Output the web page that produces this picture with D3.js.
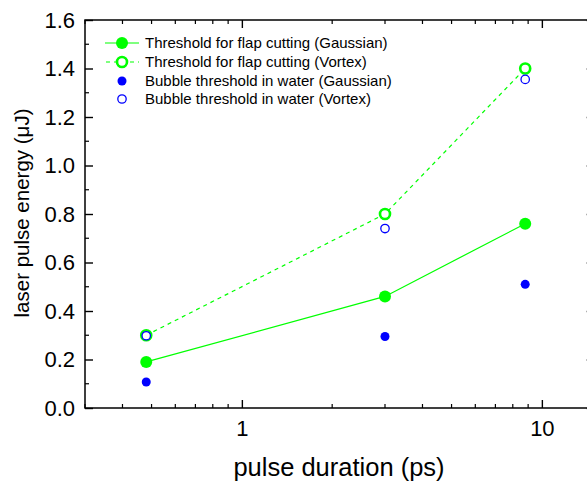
<!DOCTYPE html>
<html><head><meta charset="utf-8">
<script src="https://cdn.jsdelivr.net/npm/d3@7"></script>
<style>body{margin:0;background:#fff}svg{display:block}text{font-family:Arial,"Liberation Sans",sans-serif}</style>
</head><body>
<svg id="c" width="587" height="481"></svg>
<script>
const pulseDuration = [0.48, 3.0, 8.8];
const flapGaussian = [0.19, 0.46, 0.76];
const flapVortex = [0.30, 0.80, 1.40];
const bubbleGaussian = [0.107, 0.295, 0.51];
const bubbleVortex = [0.298, 0.74, 1.355];
const seriesNames = ["Threshold for flap cutting (Gaussian)","Threshold for flap cutting (Vortex)","Bubble threshold in water (Gaussian)","Bubble threshold in water (Vortex)"];
const yTicks = [0,0.2,0.4,0.6,0.8,1.0,1.2,1.4,1.6];
const xTicks = [1,10];

const svg = d3.select("#c");
const L=85, T=20, B=408;
const x = d3.scaleLog().domain([0.3,15]).range([L, L + 300*Math.log10(15/0.3)]);
const y = d3.scaleLinear().domain([0,1.6]).range([B,T]);
const R = x.range()[1];
const green="#00ff00", blue="#0000ff";

svg.append("rect").attr("x",L).attr("y",T).attr("width",R-L).attr("height",B-T).attr("fill","none").attr("stroke","#000").attr("stroke-width",1.5);

const minorX = [0.3,0.4,0.5,0.6,0.7,0.8,0.9,2,3,4,5,6,7,8,9];
const gb = svg.append("g").attr("transform",`translate(0,${B})`)
 .call(d3.axisBottom(x).tickValues(xTicks).tickSize(-8).tickPadding(12).tickFormat(d3.format("d")));
const gt = svg.append("g").attr("transform",`translate(0,${T})`)
 .call(d3.axisTop(x).tickValues(xTicks).tickSize(-8).tickFormat(""));
[gb,gt].forEach((g,i)=>{
  g.select(".domain").remove();
  g.selectAll(".tick line").attr("stroke-width",1.4);
  g.selectAll(".minor").data(minorX).enter().append("line")
   .attr("x1",d=>x(d)).attr("x2",d=>x(d)).attr("y1",0).attr("y2",i===0?-4:4).attr("stroke","#000").attr("stroke-width",1.2);
});
gb.selectAll(".tick text").attr("font-size",22).attr("fill","#000").attr("font-family","Arial, Liberation Sans, sans-serif");

const minorY = d3.range(0.1,1.6,0.2);
const gl = svg.append("g").attr("transform",`translate(${L},0)`)
 .call(d3.axisLeft(y).tickValues(yTicks).tickSize(-8).tickPadding(10).tickFormat(d3.format(".1f")));
const gr = svg.append("g").attr("transform",`translate(${R},0)`)
 .call(d3.axisRight(y).tickValues(yTicks).tickSize(-8).tickFormat(""));
[gl,gr].forEach((g,i)=>{
  g.select(".domain").remove();
  g.selectAll(".tick line").attr("stroke-width",1.4);
  g.selectAll(".minor").data(minorY).enter().append("line")
   .attr("y1",d=>y(d)).attr("y2",d=>y(d)).attr("x1",0).attr("x2",i===0?4:-4).attr("stroke","#000").attr("stroke-width",1.2);
});
gl.selectAll(".tick text").attr("font-size",22).attr("fill","#000").attr("font-family","Arial, Liberation Sans, sans-serif");

svg.append("text").attr("x",339).attr("y",476).attr("text-anchor","middle").attr("font-size",25.5).text("pulse duration (ps)");
svg.append("text").attr("transform",`translate(29,213) rotate(-90)`).attr("text-anchor","middle").attr("font-size",20.5).text("laser pulse energy (μJ)");

const pts = a => pulseDuration.map((d,i)=>[x(d),y(a[i])]);
const line = d3.line();
svg.append("path").attr("d",line(pts(flapVortex))).attr("fill","none").attr("stroke",green).attr("stroke-width",1.2).attr("stroke-dasharray","4,4");
svg.append("path").attr("d",line(pts(flapGaussian))).attr("fill","none").attr("stroke",green).attr("stroke-width",1.2);

function marks(a, r, fill, stroke, sw){
  svg.append("g").selectAll("circle").data(pts(a)).enter().append("circle")
   .attr("cx",d=>d[0]).attr("cy",d=>d[1]).attr("r",r).attr("fill",fill).attr("stroke",stroke).attr("stroke-width",sw);
}
marks(flapGaussian,6,green,"none",0);
marks(flapVortex,5,"#fff",green,2.6);
marks(bubbleGaussian,4.5,blue,"none",0);
marks(bubbleVortex,4.2,"#fff",blue,1.3);

const ly=[43,62,81,99];
const lg = svg.append("g");
lg.append("line").attr("x1",105).attr("x2",139).attr("y1",ly[0]).attr("y2",ly[0]).attr("stroke",green).attr("stroke-width",1.2);
lg.append("line").attr("x1",105).attr("x2",139).attr("y1",ly[1]).attr("y2",ly[1]).attr("stroke",green).attr("stroke-width",1.2).attr("stroke-dasharray","4,4").attr("stroke-dashoffset",-1);
lg.append("circle").attr("cx",122).attr("cy",ly[0]).attr("r",6).attr("fill",green);
lg.append("circle").attr("cx",122).attr("cy",ly[1]).attr("r",5).attr("fill","#fff").attr("stroke",green).attr("stroke-width",2.6);
lg.append("circle").attr("cx",122).attr("cy",ly[2]).attr("r",4.5).attr("fill",blue);
lg.append("circle").attr("cx",122).attr("cy",ly[3]).attr("r",4.2).attr("fill","#fff").attr("stroke",blue).attr("stroke-width",1.3);
lg.selectAll("text").data(seriesNames).enter().append("text")
 .attr("x",145).attr("y",(d,i)=>ly[i]).attr("dy","0.35em").attr("font-size",15).text(d=>d);
</script>
</body></html>
